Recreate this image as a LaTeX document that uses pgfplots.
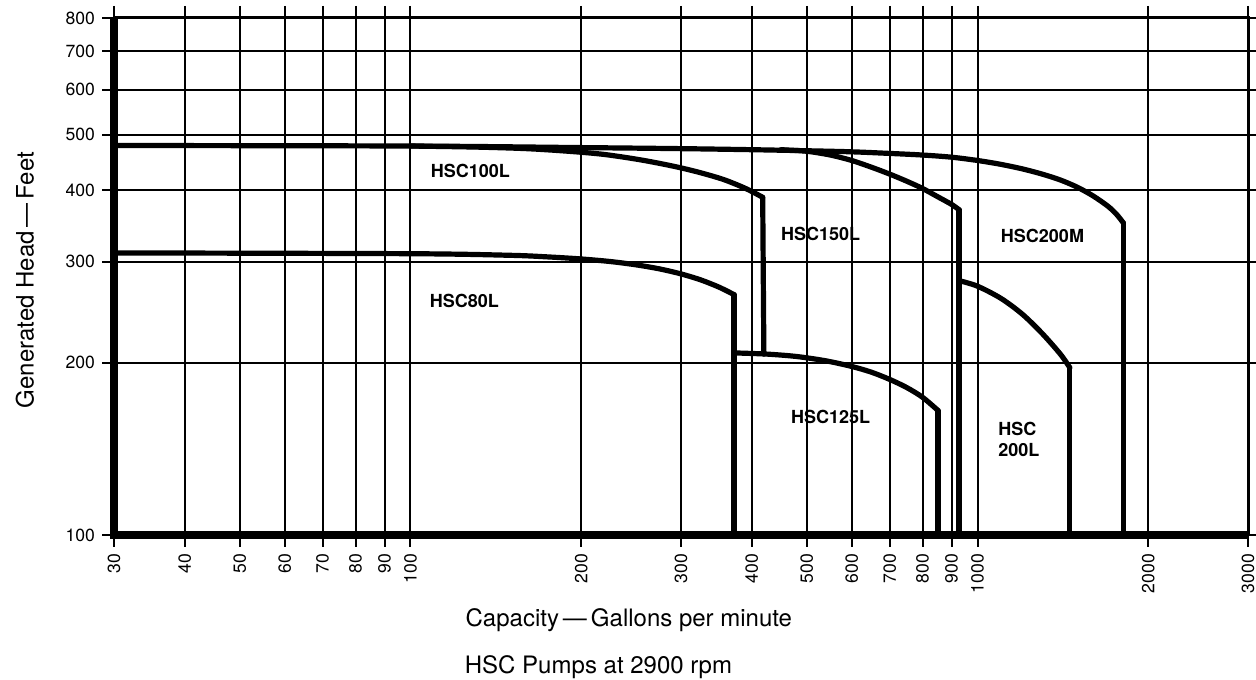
\documentclass[border=0pt]{standalone}
\usepackage{fontspec}
\setmainfont{TeX Gyre Heros}
\usepackage{pgfplots}
\pgfplotsset{compat=1.18}
\tikzset{
  pump/.style={black, line width=2.6pt, line join=round, line cap=round},
  lab/.style={font=\bfseries\fontsize{9}{10.5}\selectfont},
}
\begin{document}
\begin{tikzpicture}
\begin{axis}[
  name=ax, at={(0,0)}, anchor=south west,
  scale only axis, width=567pt, height=258.5pt,
  xmode=log, ymode=log,
  xmin=30, xmax=3000, ymin=100, ymax=800,
  xtick={30,40,50,60,70,80,90,100,200,300,400,500,600,700,800,900,1000,2000,3000},
  xticklabels={30,40,50,60,70,80,90,100,200,300,400,500,600,700,800,900,1000,2000,3000},
  ytick={100,200,300,400,500,600,700,800},
  yticklabels={100,200,300,400,500,600,700,800},
  xminorticks=false, yminorticks=false,
  tick align=outside, major tick length=6pt,
  tick style={black, line width=1pt},
  grid=major, major grid style={black, line width=1pt},
  axis line style={line width=1.5pt},
  xticklabel style={rotate=90, anchor=east, font=\fontsize{8.8}{9}\selectfont},
  yticklabel style={font=\fontsize{8.8}{9}\selectfont},
  clip=false,
]
% thick frame lines (x = 30, y = 100)
\addplot[black, line width=3.6pt] coordinates {(30,800) (30,100) (3000,100)};

% HSC200M (common top line)
\addplot[pump, smooth, tension=0.5] coordinates {(30,479) (100,478) (200,475) (300,473) (400,471) (500,469) (600,467) (700,464) (800,461) (900,457) (1000,451) (1100,444) (1200,436) (1300,427) (1400,417) (1500,405) (1600,391) (1700,375) (1760,363) (1808,351)};
\addplot[pump] coordinates {(1808,351) (1808,100)};

% HSC150L
\addplot[pump, smooth, tension=0.5] coordinates {(450,471) (500,468) (550,461) (600,451) (650,439) (700,427) (750,415) (800,403) (850,390) (900,378) (928,370)};
\addplot[pump] coordinates {(928,370) (928,100)};

% HSC100L
\addplot[pump, smooth, tension=0.5] coordinates {(100,478) (130,476) (160,473) (190,468) (220,462) (255,452) (290,441) (320,431) (356,418) (390,403) (418,389)};
\addplot[pump] coordinates {(418,389) (420,207)};

% HSC80L
\addplot[pump, smooth, tension=0.5] coordinates {(30,311) (100,310) (150,308) (175,306) (200,303.5) (225,300.4) (250,296.4) (275,291.6) (300,285.8) (325,279) (350,271) (372,263)};
\addplot[pump] coordinates {(372,263) (372,100)};

% HSC125L
\addplot[pump, smooth, tension=0.5] coordinates {(372,208) (425,207) (480,205) (540,201.5) (600,197) (650,192.5) (700,187) (750,181) (800,174) (852,165)};
\addplot[pump] coordinates {(852,165) (852,100)};

% HSC200L
\addplot[pump, smooth, tension=0.5] coordinates {(930,278) (1000,272) (1100,259) (1200,243) (1300,225) (1400,207) (1455,196)};
\addplot[pump] coordinates {(1455,196) (1455,100)};

\node[lab] at (axis cs:127.5,433) {HSC100L};
\node[lab] at (axis cs:529,336) {HSC150L};
\node[lab] at (axis cs:1302,333) {HSC200M};
\node[lab] at (axis cs:124.5,256) {HSC80L};
\node[lab] at (axis cs:551,161) {HSC125L};
\node[lab, align=left, anchor=west, inner sep=0pt] at (axis cs:1087,147) {HSC\\200L};

\node[font=\fontsize{12}{14}\selectfont] at (axis description cs:0.454,-0.1644) {Capacity\,—\,Gallons per minute};
\node[font=\fontsize{12}{14}\selectfont] at (axis description cs:0.4272,-0.2553) {HSC Pumps at 2900 rpm};
\node[font=\fontsize{12}{14}\selectfont, rotate=90] at (axis description cs:-0.0785,0.493) {Generated Head\,—\,Feet};
\end{axis}
\pgfresetboundingbox
\path[use as bounding box] (-57pt,-72pt) rectangle (571pt,267.5pt);
\end{tikzpicture}
\end{document}
